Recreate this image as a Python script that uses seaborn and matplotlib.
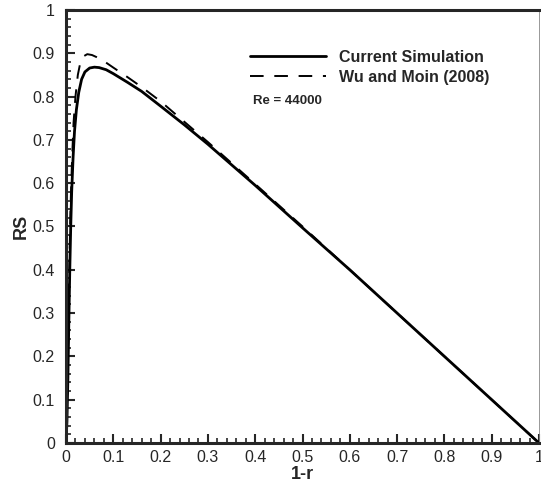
"""
Reynolds shear stress profile, current simulation vs Wu and Moin (2008)
"""
import numpy as np
import pandas as pd
import matplotlib
matplotlib.use("Agg")
import matplotlib.pyplot as plt
import seaborn as sns
from matplotlib.ticker import MultipleLocator

# values
x_sim = [0, 0.002, 0.004, 0.006, 0.008, 0.010, 0.012, 0.015, 0.018, 0.022,
         0.027, 0.033, 0.040, 0.050, 0.060, 0.070, 0.085, 0.10, 0.13, 0.16,
         0.20, 0.25, 0.30, 0.40, 0.50, 0.60, 0.70, 0.80, 0.90, 1.0]
rs_sim = [0, 0.05, 0.15, 0.28, 0.40, 0.50, 0.58, 0.66, 0.72, 0.77,
          0.81, 0.84, 0.857, 0.866, 0.868, 0.867, 0.862, 0.853, 0.833, 0.812,
          0.778, 0.735, 0.69, 0.595, 0.497, 0.40, 0.30, 0.20, 0.10, 0.0]

x_wm = [0, 0.002, 0.004, 0.006, 0.008, 0.010, 0.013, 0.016, 0.020, 0.025,
        0.030, 0.037, 0.045, 0.055, 0.065, 0.08, 0.10, 0.13, 0.16, 0.20,
        0.25, 0.30, 0.40, 0.50, 0.60, 0.70, 0.80, 0.90, 1.0]
rs_wm = [0, 0.07, 0.20, 0.34, 0.46, 0.56, 0.66, 0.74, 0.80, 0.85,
         0.877, 0.893, 0.898, 0.896, 0.891, 0.882, 0.867, 0.845, 0.822, 0.789,
         0.742, 0.695, 0.598, 0.50, 0.40, 0.30, 0.20, 0.10, 0.0]

labels = ["Current Simulation", "Wu and Moin (2008)"]
re_text = "Re = 44000"

sns.set_style("ticks")
plt.rcParams['font.family'] = ['Liberation Sans', 'DejaVu Sans']

df_sim = pd.DataFrame({'x': x_sim, 'rs': rs_sim})
df_wm = pd.DataFrame({'x': x_wm, 'rs': rs_wm})

fig = plt.figure(figsize=(5.41, 4.83), dpi=100)
ax = fig.add_axes([66 / 541, 40 / 483, 473 / 541, 433 / 483])

sns.lineplot(data=df_sim, x='x', y='rs', ax=ax, color='black', lw=2.0,
             label=labels[0], sort=False)
sns.lineplot(data=df_wm, x='x', y='rs', ax=ax, color='black', lw=1.4,
             label=labels[1], sort=False)
ax.lines[1].set_dashes([7, 5.5])

ax.set_xlim(0, 1)
ax.set_ylim(0, 1)
ax.xaxis.set_major_locator(MultipleLocator(0.1))
ax.xaxis.set_minor_locator(MultipleLocator(0.02))
ax.yaxis.set_major_locator(MultipleLocator(0.1))
ax.yaxis.set_minor_locator(MultipleLocator(0.02))
ax.set_xticklabels([f"{v:g}" for v in ax.get_xticks()])
ax.set_yticklabels([f"{v:g}" for v in ax.get_yticks()])
ax.tick_params(which='major', direction='in', length=6.5, width=1.5,
               labelsize=11.5, top=False, right=False)
ax.tick_params(axis='y', which='major', pad=8)
ax.tick_params(axis='x', which='major', pad=5)
ax.tick_params(which='minor', direction='in', length=3.5, width=1.2,
               top=False, right=False)

for side in ['left', 'bottom', 'top']:
    ax.spines[side].set_linewidth(2.2)
ax.spines['right'].set_linewidth(0.6)
ax.spines['right'].set_color('#888888')

ax.set_xlabel("1-r", fontsize=13, fontweight='bold', labelpad=1)
ax.set_ylabel("RS", fontsize=13, fontweight='bold', labelpad=2)

leg = ax.legend(loc='upper left', bbox_to_anchor=(0.39, 0.908), frameon=False,
                handlelength=4.75, handletextpad=0.8, labelspacing=0.3,
                borderpad=0, borderaxespad=0,
                prop={'weight': 'bold', 'size': 11.5})
ax.text(0.395, 0.79, re_text, transform=ax.transAxes, fontsize=9.5,
        fontweight='bold', va='center', ha='left')

fig.savefig("out.png", dpi=100)
